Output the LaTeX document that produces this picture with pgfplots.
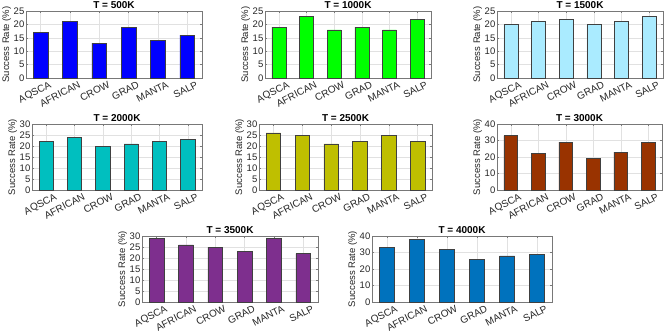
\documentclass[border=0pt]{standalone}
\usepackage{pgfplots}
\pgfplotsset{compat=1.18}
\usepackage{fontspec}
\setmainfont{Liberation Sans}

\definecolor{c500}{RGB}{0,0,255}
\definecolor{c1000}{RGB}{0,255,0}
\definecolor{c1500}{RGB}{170,235,255}
\definecolor{c2000}{RGB}{0,191,191}
\definecolor{c2500}{RGB}{191,191,0}
\definecolor{c3000}{RGB}{153,51,0}
\definecolor{c3500}{RGB}{126,47,142}
\definecolor{c4000}{RGB}{0,114,189}
\definecolor{axline}{RGB}{120,120,120}
\definecolor{ticktext}{RGB}{38,38,38}
\definecolor{gridc}{RGB}{225,225,225}

\pgfplotsset{
  srpanel/.style={
    scale only axis,
    anchor=north west,
    xmin=0.5, xmax=6.5, ymin=0,
    xtick={1,2,3,4,5,6},
    xticklabels={AQSCA,AFRICAN,CROW,GRAD,MANTA,SALP},
    ybar, bar width=0.5, bar shift=0pt,
    tick align=inside,
    major tick length=2pt,
    axis line style={axline, line width=0.5pt},
    every tick/.style={axline, line width=0.4pt},
    xmajorgrids, ymajorgrids,
    major grid style={gridc, line width=0.4pt},
    /pgf/number format/assume math mode=true,
    tick label style={font=\fontsize{9.5}{10}\selectfont, text=ticktext},
    xticklabel style={font=\fontsize{10}{11}\selectfont, rotate=27, anchor=north east, inner sep=0pt, xshift=6pt, yshift=-6pt},
    yticklabel style={inner sep=1.5pt},
    ylabel={Success Rate (\%)},
    ylabel style={font=\fontsize{9.5}{10}\selectfont, text=ticktext, inner sep=1pt},
    every axis title shift=0pt,
    title style={font=\bfseries\fontsize{10}{11}\selectfont, at={(0.5,1)}, anchor=base, inner sep=0pt, yshift=2.7pt},
    every axis plot/.append style={draw=black!75, line width=0.5pt},
  },
}

\begin{document}
\begin{tikzpicture}
\path[use as bounding box] (0pt,0pt) rectangle (669pt,-333pt);

% Row 1
\begin{axis}[srpanel, at={(26pt,-11pt)}, width=176pt, height=67pt,
  ymax=25, ytick={0,5,...,25}, title={T = 500K}]
  \addplot[fill=c500] coordinates {(1,17) (2,21) (3,13) (4,19) (5,14) (6,16)};
\end{axis}
\begin{axis}[srpanel, at={(265pt,-11pt)}, width=166pt, height=67pt,
  ymax=25, ytick={0,5,...,25}, title={T = 1000K}]
  \addplot[fill=c1000] coordinates {(1,19) (2,23) (3,18) (4,19) (5,18) (6,22)};
\end{axis}
\begin{axis}[srpanel, at={(497pt,-11pt)}, width=166pt, height=67pt,
  ymax=25, ytick={0,5,...,25}, title={T = 1500K}]
  \addplot[fill=c1500] coordinates {(1,20) (2,21) (3,22) (4,20) (5,21) (6,23)};
\end{axis}

% Row 2
\begin{axis}[srpanel, at={(32pt,-124pt)}, width=170pt, height=66pt,
  ymax=30, ytick={0,5,...,30}, title={T = 2000K}]
  \addplot[fill=c2000] coordinates {(1,22) (2,24) (3,20) (4,21) (5,22) (6,23)};
\end{axis}
\begin{axis}[srpanel, at={(259pt,-124pt)}, width=173pt, height=66pt,
  ymax=30, ytick={0,5,...,30}, title={T = 2500K}]
  \addplot[fill=c2500] coordinates {(1,26) (2,25) (3,21) (4,22) (5,25) (6,22)};
\end{axis}
\begin{axis}[srpanel, at={(497pt,-124pt)}, width=165pt, height=66pt,
  ymax=40, ytick={0,10,...,40}, title={T = 3000K}]
  \addplot[fill=c3000] coordinates {(1,33) (2,22) (3,29) (4,19) (5,23) (6,29)};
\end{axis}

% Row 3
\begin{axis}[srpanel, at={(142pt,-236pt)}, width=176pt, height=66pt,
  ymax=30, ytick={0,5,...,30}, title={T = 3500K}]
  \addplot[fill=c3500] coordinates {(1,29) (2,26) (3,25) (4,23) (5,29) (6,22)};
\end{axis}
\begin{axis}[srpanel, at={(372pt,-236pt)}, width=180pt, height=66pt,
  ymax=40, ytick={0,10,...,40}, title={T = 4000K}]
  \addplot[fill=c4000] coordinates {(1,33) (2,38) (3,32) (4,26) (5,28) (6,29)};
\end{axis}
\end{tikzpicture}
\end{document}
